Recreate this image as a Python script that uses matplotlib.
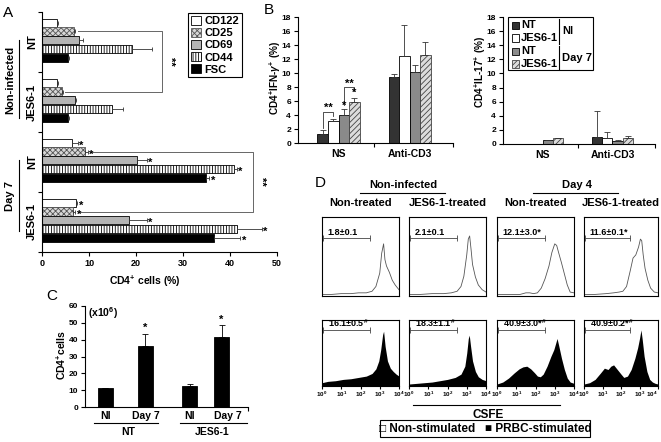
import matplotlib
matplotlib.use('Agg')
import matplotlib.pyplot as plt
from matplotlib.patches import Rectangle
from matplotlib.lines import Line2D

W, H = 661, 442
plt.rcParams.update({
    'font.family': ['Liberation Sans', 'DejaVu Sans'],
    'font.weight': 'bold',
    'mathtext.fontset': 'custom',
    'mathtext.rm': 'Liberation Sans:bold',
    'mathtext.bf': 'Liberation Sans:bold',
    'mathtext.it': 'Liberation Sans:bold:italic',
    'mathtext.sf': 'Liberation Sans:bold',
    'hatch.linewidth': 0.6,
    'axes.linewidth': 0.8,
    'xtick.major.width': 0.8, 'ytick.major.width': 0.8,
    'xtick.major.size': 3, 'ytick.major.size': 3,
    'xtick.major.pad': 2, 'ytick.major.pad': 2,
})

# ---------------- data ----------------
# Panel A
a_markers = ['CD122', 'CD25', 'CD69', 'CD44', 'FSC']
a_groups = ['NT', 'JES6-1', 'NT', 'JES6-1']
a_vals = {
    'CD122': [3.1, 3.1, 6.3, 7.2],
    'CD25': [6.8, 4.2, 9.2, 6.7],
    'CD69': [7.9, 7.0, 20.2, 18.6],
    'CD44': [19.1, 14.8, 40.8, 41.5],
    'FSC': [5.6, 5.6, 34.9, 36.7],
}
a_errs = {
    'CD122': [0.3, 0.3, 1.3, 0.3],
    'CD25': [0.3, 0.3, 0.5, 0.4],
    'CD69': [0.8, 0.3, 2.1, 3.7],
    'CD44': [4.3, 2.5, 0.7, 5.3],
    'FSC': [0.2, 0.2, 0.7, 5.5],
}
a_xticks = [0, 10, 20, 30, 40, 50]

# Panel B
b_categories = ['NS', 'Anti-CD3']
b_series = ['NT', 'JES6-1', 'NT', 'JES6-1']
ifn_vals = [[1.3, 9.5], [3.1, 12.4], [4.0, 10.1], [5.8, 12.6]]
ifn_errs = [[0.5, 0.4], [0.4, 4.4], [0.8, 1.1], [0.7, 1.9]]
il17_vals = [[0.05, 1.0], [0.05, 0.8], [0.5, 0.4], [0.8, 0.8]]
il17_errs = [[0.02, 3.7], [0.02, 0.9], [0.1, 0.2], [0.1, 0.4]]
b_yticks = [0, 2, 4, 6, 8, 10, 12, 14, 16, 18]

# Panel C
c_labels = ['NI', 'Day 7', 'NI', 'Day 7']
c_groups = ['NT', 'JES6-1']
c_vals = [11.0, 36.5, 12.5, 41.5]
c_errs = [0.5, 7.0, 1.0, 7.0]
c_yticks = [0, 10, 20, 30, 40, 50, 60]

# Panel D  (x in decades of CSFE, y as fraction of panel height)
d_cols = ['Non-treated', 'JES6-1-treated', 'Non-treated', 'JES6-1-treated']
d_row1_x = [
    [0, 0.5, 1.0, 1.5, 1.9, 2.3, 2.6, 2.8, 3.0, 3.1, 3.2, 3.27, 3.35, 3.5, 3.65, 3.8, 3.93, 4.0],
    [0, 0.6, 1.2, 1.8, 2.2, 2.5, 2.7, 2.85, 3.0, 3.08, 3.15, 3.22, 3.3, 3.45, 3.6, 3.8, 4.0],
    [0, 0.6, 1.2, 1.5, 1.7, 1.9, 2.1, 2.3, 2.5, 2.7, 2.85, 3.0, 3.1, 3.2, 3.35, 3.5, 3.65, 3.8, 4.0],
    [0, 0.6, 1.2, 1.6, 1.9, 2.1, 2.3, 2.5, 2.65, 2.8, 2.95, 3.05, 3.12, 3.2, 3.3, 3.45, 3.6, 3.8, 4.0],
]
d_row1_y = [
    [0.02, 0.02, 0.03, 0.03, 0.04, 0.04, 0.06, 0.12, 0.29, 0.54, 0.66, 0.46, 0.38, 0.3, 0.2, 0.14, 0.1, 0.08],
    [0.02, 0.02, 0.03, 0.03, 0.04, 0.06, 0.12, 0.25, 0.52, 0.72, 0.76, 0.6, 0.4, 0.24, 0.14, 0.08, 0.05],
    [0.02, 0.02, 0.02, 0.04, 0.04, 0.03, 0.04, 0.1, 0.22, 0.38, 0.55, 0.66, 0.64, 0.55, 0.42, 0.28, 0.14, 0.05, 0.04],
    [0.02, 0.02, 0.03, 0.04, 0.05, 0.06, 0.12, 0.32, 0.48, 0.52, 0.62, 0.72, 0.7, 0.52, 0.35, 0.2, 0.1, 0.05, 0.04],
]
d_row2_x = [
    [0, 0.3, 0.7, 1.1, 1.5, 1.9, 2.3, 2.6, 2.8, 2.95, 3.05, 3.15, 3.2, 3.28, 3.4, 3.55, 3.7, 3.85, 4.0],
    [0, 0.4, 0.8, 1.2, 1.6, 2.0, 2.4, 2.7, 2.9, 3.0, 3.08, 3.13, 3.2, 3.3, 3.45, 3.6, 3.8, 4.0],
    [0, 0.3, 0.6, 0.9, 1.15, 1.35, 1.55, 1.75, 1.95, 2.1, 2.25, 2.4, 2.6, 2.8, 2.95, 3.05, 3.12, 3.2, 3.35, 3.5, 3.65, 3.8, 4.0],
    [0, 0.3, 0.6, 0.9, 1.1, 1.3, 1.45, 1.6, 1.8, 2.0, 2.15, 2.35, 2.55, 2.75, 2.9, 3.0, 3.08, 3.15, 3.25, 3.4, 3.55, 3.7, 3.85, 4.0],
]
d_row2_y = [
    [0.05, 0.07, 0.08, 0.1, 0.11, 0.13, 0.15, 0.19, 0.26, 0.38, 0.55, 0.78, 0.83, 0.6, 0.38, 0.27, 0.22, 0.18, 0.15],
    [0.03, 0.04, 0.05, 0.06, 0.08, 0.1, 0.13, 0.18, 0.3, 0.5, 0.72, 0.77, 0.6, 0.38, 0.22, 0.14, 0.1, 0.08],
    [0.03, 0.06, 0.12, 0.2, 0.26, 0.29, 0.3, 0.26, 0.2, 0.15, 0.14, 0.18, 0.3, 0.45, 0.55, 0.65, 0.72, 0.62, 0.42, 0.25, 0.12, 0.06, 0.04],
    [0.03, 0.05, 0.1, 0.2, 0.27, 0.25, 0.3, 0.32, 0.25, 0.18, 0.13, 0.15, 0.25, 0.42, 0.58, 0.72, 0.85, 0.7, 0.45, 0.22, 0.1, 0.06, 0.04, 0.03],
]
d_row1_labels = ['1.8±0.1', '2.1±0.1', '12.1±3.0*', '11.6±0.1*']
d_row2_labels = [r'16.1±0.5$^{\#}$', r'18.3±1.1$^{\#}$', r'40.9±3.0*$^{\#}$', r'40.9±0.2*$^{\#}$']
d_gate = 2.5
d_xticks = [0, 1, 2, 3, 4]
d_xticklabels = [r'$10^{0}$', r'$10^{1}$', r'$10^{2}$', r'$10^{3}$', r'$10^{4}$']

# ---------------- helpers ----------------
fig = plt.figure(figsize=(W / 100, H / 100), dpi=100)


def axpx(x0, y0, x1, y1):
    return fig.add_axes([x0 / W, 1 - y1 / H, (x1 - x0) / W, (y1 - y0) / H])


def fx(x):
    return x / W


def fy(y):
    return 1 - y / H


def ftext(x, y, s, **kw):
    kw.setdefault('ha', 'center')
    kw.setdefault('va', 'center')
    return fig.text(fx(x), fy(y), s, **kw)


def fline(xs, ys, lw=0.8, color='black'):
    fig.add_artist(Line2D([fx(v) for v in xs], [fy(v) for v in ys], lw=lw,
                          color=color, transform=fig.transFigure))


def frect(x0, y0, x1, y1, **kw):
    fig.add_artist(Rectangle((fx(x0), fy(y1)), (x1 - x0) / W, (y1 - y0) / H,
                             transform=fig.transFigure, **kw))


# ---------------- Panel A ----------------
axA = axpx(42, 12, 277, 252)
a_styles = {
    'CD122': dict(facecolor='white', edgecolor='black'),
    'CD25': dict(facecolor='#d8d8d8', edgecolor='#555555', hatch='xxxxxx'),
    'CD69': dict(facecolor='#b4b4b4', edgecolor='black'),
    'CD44': dict(facecolor='white', edgecolor='black', hatch='||||||'),
    'FSC': dict(facecolor='black', edgecolor='black'),
}
bar_h, pitch = 0.135, 0.145
handles = []
rows = {}
for k, m in enumerate(a_markers):
    ys = [i + 0.5 - 0.03 + (k - 2) * pitch for i in range(len(a_groups))]
    rows[m] = ys
    bc = axA.barh(ys, a_vals[m], height=bar_h, linewidth=0.6, label=m, **a_styles[m])
    handles.append(bc)
    axA.errorbar(a_vals[m], ys, xerr=[[0] * 4, a_errs[m]], fmt='none', ecolor='#333333',
                 elinewidth=0.6, capsize=1.5, capthick=0.6)
    for i in (2, 3):
        axA.text(a_vals[m][i] + a_errs[m][i] + 0.3, ys[i] + 0.05, '*', ha='left',
                 va='center', fontsize=8)
y0, y1 = rows['CD25'][0], rows['CD25'][1]
axA.plot([7.6, 25.5, 25.5, 4.9], [y0, y0, y1, y1], color='#666666', lw=0.7)
axA.text(26.2, (y0 + y1) / 2, '**', rotation=270, ha='left', va='center', fontsize=8)
y2, y3 = rows['CD25'][2], rows['CD25'][3]
axA.plot([10.5, 44.9, 44.9, 7.6], [y2, y2, y3, y3], color='#666666', lw=0.7)
axA.text(45.6, (y2 + y3) / 2, '**', rotation=270, ha='left', va='center', fontsize=8)

axA.set_ylim(4, 0)
axA.set_xlim(0, 50)
axA.set_yticks([0, 1, 2, 3, 4])
axA.set_yticklabels([])
axA.set_xticks(a_xticks)
axA.set_xticklabels([str(t) for t in a_xticks], fontsize=6.5)
for s in ('top', 'right'):
    axA.spines[s].set_visible(False)
for i, g in enumerate(a_groups):
    ftext(32, 12 + (i + 0.5) * 60, g, rotation=90, fontsize=8)
ftext(10, 80, 'Non-infected', rotation=90, fontsize=8)
fline([19, 19], [40, 118])
ftext(10, 196, 'Day 7', rotation=90, fontsize=8)
fline([19, 19], [160, 231])
ftext(145, 281, r'CD4$^{+}$ cells (%)', fontsize=7.5)
leg = axA.legend(handles=handles, loc='upper left', bbox_to_anchor=(fx(188), fy(13)),
                 bbox_transform=fig.transFigure, frameon=True, fancybox=False,
                 edgecolor='black', framealpha=1, fontsize=8, handlelength=0.9,
                 handleheight=0.9, handletextpad=0.3, borderpad=0.25,
                 labelspacing=0.15, borderaxespad=0)
leg.get_frame().set_linewidth(0.8)

# ---------------- Panel B ----------------
b_styles = [dict(facecolor='#333333', edgecolor='black'),
            dict(facecolor='white', edgecolor='black'),
            dict(facecolor='#8a8a8a', edgecolor='black'),
            dict(facecolor='#dcdcdc', edgecolor='#444444', hatch='//////')]
bw = 0.148


def draw_b(ax, vals, errs):
    for k in range(4):
        xs = [g + (k - 1.5) * bw for g in range(len(b_categories))]
        ax.bar(xs, vals[k], width=bw, linewidth=0.6, **b_styles[k])
        ax.errorbar(xs, vals[k], yerr=[[0, 0], errs[k]], fmt='none', ecolor='#333333',
                    elinewidth=0.6, capsize=2, capthick=0.6)
    ax.set_xlim(-0.57, 1.61)
    ax.set_ylim(0, 18)
    ax.set_yticks(b_yticks)
    ax.set_yticklabels([str(t) for t in b_yticks], fontsize=6)
    ax.set_xticks(range(len(b_categories)))
    ax.set_xticklabels(b_categories, fontsize=7.5)
    ax.tick_params(axis='x', length=0, pad=4)
    ax.set_xticks([0.5, 1.61], minor=True)
    ax.tick_params(axis='x', which='minor', length=3, width=0.8)
    for s in ('top', 'right'):
        ax.spines[s].set_visible(False)


axB1 = axpx(298, 17, 453, 143)
draw_b(axB1, ifn_vals, ifn_errs)
c0, c1, c2, c3 = [(k - 1.5) * bw for k in range(4)]
axB1.plot([c0, c0, c1, c1], [2.2, 4.5, 4.5, 3.8], color='#333333', lw=0.6)
axB1.text((c0 + c1) / 2, 4.3, '**', ha='center', va='bottom', fontsize=8)
axB1.plot([c2, c2, c3, c3], [5.5, 8.0, 8.0, 7.4], color='#333333', lw=0.6)
axB1.text((c2 + c3) / 2, 7.8, '**', ha='center', va='bottom', fontsize=8)
axB1.text(c2, 4.6, '*', ha='center', va='bottom', fontsize=8)
axB1.text(c3, 6.4, '*', ha='center', va='bottom', fontsize=8)
ftext(275, 78, r'CD4$^{+}$IFN-$\gamma^{+}$ (%)', rotation=90, fontsize=7.2)

axB2 = axpx(503, 17, 655, 144)
draw_b(axB2, il17_vals, il17_errs)
ftext(480, 72, r'CD4$^{+}$IL-17$^{+}$ (%)', rotation=90, fontsize=7.2)

# legend of B right
frect(508, 17, 593, 70, facecolor='white', edgecolor='black', lw=0.8)
for k, yy in enumerate([25, 38, 51, 64]):
    frect(512, yy - 3.5, 519, yy + 3.5, lw=0.6, **b_styles[k])
    ftext(521, yy, b_series[k], ha='left', fontsize=8)
fline([559, 559], [19, 44])
fline([559, 559], [46, 69])
ftext(562, 31, 'NI', ha='left', fontsize=8)
ftext(562, 58, 'Day 7', ha='left', fontsize=8)

# ---------------- Panel C ----------------
axC = axpx(85, 306, 248, 407)
c_pos = [0, 1, 2.1, 2.9]
axC.bar(c_pos, c_vals, width=0.375, color='black', edgecolor='black', linewidth=0.6)
axC.errorbar(c_pos, c_vals, yerr=[[0] * 4, c_errs], fmt='none', ecolor='black',
             elinewidth=0.6, capsize=2, capthick=0.6)
for i in (1, 3):
    axC.text(c_pos[i], c_vals[i] + c_errs[i] + 0.5, '*', ha='center', va='bottom', fontsize=8)
axC.set_xlim(-0.51, 3.56)
axC.set_ylim(0, 60)
axC.set_yticks(c_yticks)
axC.set_yticklabels([str(t) for t in c_yticks], fontsize=6)
axC.set_xticks([0, 1, 2.1, 3.05])
axC.set_xticklabels(c_labels, fontsize=7.5)
axC.tick_params(axis='x', length=0, pad=3)
axC.set_xticks([3.56], minor=True)
axC.tick_params(axis='x', which='minor', length=3, width=0.8)
for s in ('top', 'right'):
    axC.spines[s].set_visible(False)
fline([94, 158], [423, 423])
fline([180, 247], [423, 423])
ftext(128, 432, c_groups[0], fontsize=7.5)
ftext(212, 432, c_groups[1], fontsize=7.5)
ftext(88, 313, r'(x10$^{6}$)', ha='left', fontsize=7.5)
ftext(61, 355, r'CD4$^{+}$cells', rotation=90, fontsize=7.5)

# ---------------- Panel D ----------------
col_x = [(322, 399), (409, 486), (497, 574), (584, 658)]
row1_y = (217, 296)
row2_y = (320, 386)
for j, (xa, xb) in enumerate(col_x):
    for r, (ya, yb) in enumerate((row1_y, row2_y)):
        ax = axpx(xa, ya, xb, yb)
        if r == 0:
            ax.plot(d_row1_x[j], d_row1_y[j], color='#555555', lw=0.6)
            lab, gy = d_row1_labels[j], 0.73
        else:
            ax.fill_between(d_row2_x[j], 0, d_row2_y[j], color='black', lw=0)
            lab, gy = d_row2_labels[j], 0.85
        ax.errorbar([d_gate / 2 + 0.03], [gy], xerr=[d_gate / 2 - 0.03], fmt='none',
                    ecolor='#444444', elinewidth=0.6, capsize=2, capthick=0.6)
        ax.text(0.3, gy + 0.015, lab, ha='left', va='bottom', fontsize=6.5)
        ax.set_xlim(0, 4)
        ax.set_ylim(0, 1)
        ax.set_yticks([])
        if r == 1:
            ax.set_xticks(d_xticks)
            ax.set_xticklabels(d_xticklabels, fontsize=4.5)
            ax.tick_params(axis='x', length=2, pad=1)
            if j == len(col_x) - 1:
                ax.get_xticklabels()[-1].set_horizontalalignment('right')
        else:
            ax.set_xticks([])
    ftext((xa + xb) / 2, 203, d_cols[j], fontsize=8)
ftext(403, 185, 'Non-infected', fontsize=8)
fline([360, 445], [193, 193])
ftext(577, 185, 'Day 4', fontsize=8)
fline([533, 618], [193, 193])
fline([413, 560], [405, 405])
ftext(488, 415, 'CSFE', fontsize=8.5)
frect(380, 420, 590, 437, facecolor='white', edgecolor='black', lw=0.8)
ftext(485, 428.5, '□ Non-stimulated   ■ PRBC-stimulated', fontsize=8.5)

# panel letters
for letter, (x, y) in {'A': (8, 13), 'B': (269, 10), 'C': (52, 296), 'D': (320, 183)}.items():
    ftext(x, y, letter, fontsize=11, fontweight='normal')

fig.savefig('out.png', dpi=100)
